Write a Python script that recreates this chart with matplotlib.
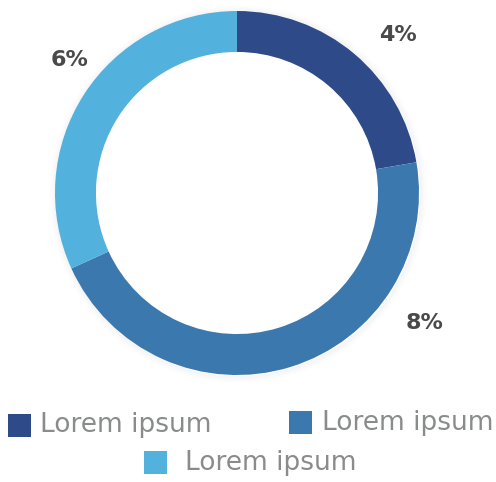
import matplotlib
matplotlib.use("Agg")
import matplotlib.pyplot as plt
import numpy as np

labels = ["Lorem ipsum", "Lorem ipsum", "Lorem ipsum"]
shares = [22.3, 45.9, 31.8]          # angular shares read from the ring
pct_labels = ["4%", "8%", "6%"]
colors = ["#2F4A88", "#3B78AE", "#53B1DD"]

W, H = 496, 482
fig = plt.figure(figsize=(W / 100, H / 100), dpi=100)
cx, cy, R = 237, 193, 182
ax = fig.add_axes([(cx - R) / W, (H - cy - R) / H, 2 * R / W, 2 * R / H])
ax.axis("off")

# soft outer shadow
for i in range(8):
    r = 1.0 + 0.005 * (i + 1)
    ax.pie([1], radius=r, colors=["#000000"],
           wedgeprops=dict(width=0.006, alpha=0.035 * (1 - i / 8), linewidth=0),
           center=(0.006, -0.006))

ax.pie(shares, colors=colors, startangle=90, counterclock=False, radius=1.0,
       wedgeprops=dict(width=0.225, linewidth=0))
ax.set_xlim(-1, 1)
ax.set_ylim(-1, 1)
ax.set_aspect("equal")

pos = [(0.885, 0.868), (1.033, -0.714), (-0.918, 0.731)]
for (x, y), t in zip(pos, pct_labels):
    ax.text(x, y, t, ha="center", va="center", fontsize=16, fontweight="bold",
            color="#4A4A4A", family="DejaVu Sans", clip_on=False)

# legend
sq = 23
items = [(8, 414, 40), (289, 411, 322), (144, 451, 185)]
for (sx, sy, tx), c, lab in zip(items, colors, labels):
    fig.patches.append(plt.Rectangle((sx / W, (H - sy - sq) / H), sq / W, sq / H,
                                     transform=fig.transFigure, color=c, linewidth=0))
    fig.text(tx / W, (H - sy - sq / 2) / H, lab, ha="left", va="center",
             fontsize=19, color="#8A8C8C", family="DejaVu Sans")

fig.savefig("out.png", dpi=100)
